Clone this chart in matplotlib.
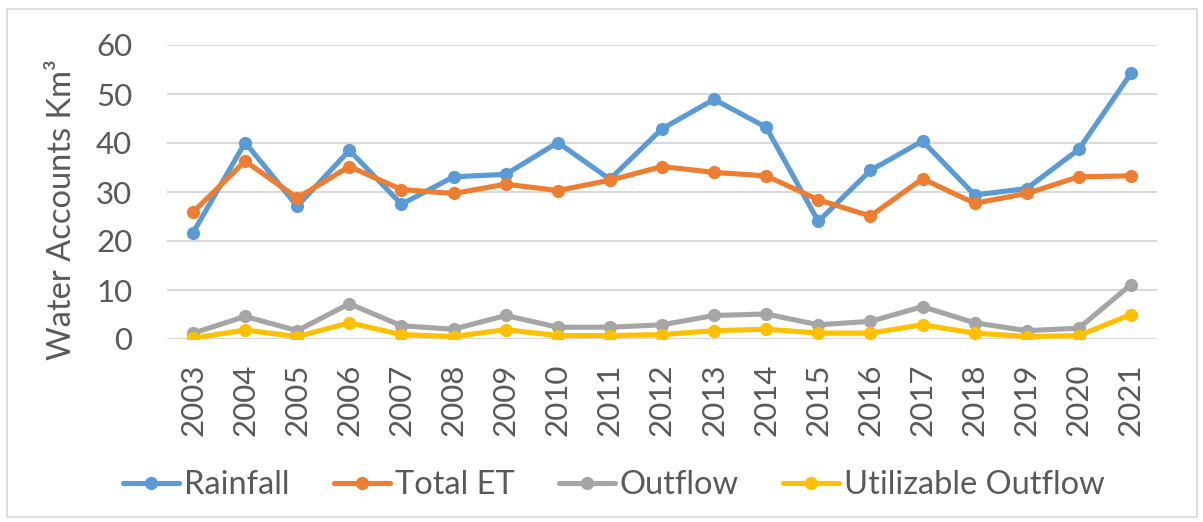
import matplotlib
matplotlib.use("Agg")
import matplotlib.pyplot as plt
from matplotlib.patches import Rectangle

years = [str(y) for y in range(2003, 2022)]
rainfall = [21.7, 40.1, 27.1, 38.5, 27.5, 33.1, 33.6, 40.1, 32.6, 42.9,
            48.9, 43.2, 24.0, 34.4, 40.4, 29.4, 30.7, 38.7, 54.2]
total_et = [25.9, 36.3, 28.8, 35.2, 30.5, 29.7, 31.6, 30.3, 32.4, 35.2,
            34.0, 33.3, 28.4, 25.1, 32.7, 27.7, 29.7, 33.1, 33.3]
outflow = [1.2, 4.6, 1.7, 7.2, 2.7, 2.0, 4.8, 2.4, 2.4, 2.9,
           4.8, 5.1, 2.9, 3.6, 6.6, 3.3, 1.7, 2.2, 11.1]
utilizable = [0.2, 1.8, 0.5, 3.3, 0.9, 0.5, 1.9, 0.7, 0.7, 0.9,
              1.7, 2.0, 1.2, 1.2, 2.9, 1.2, 0.5, 0.7, 5.0]

series = [
    ("Rainfall", rainfall, "#5B9BD5"),
    ("Total ET", total_et, "#ED7D31"),
    ("Outflow", outflow, "#A5A5A5"),
    ("Utilizable Outflow", utilizable, "#FFC000"),
]

plt.rcParams["font.family"] = ["Lato", "DejaVu Sans"]
text_color = "#595959"
grid_color = "#D9D9D9"
tick_fs = 22.5
leg_fs = 23.5

W, H = 1203, 522
fig = plt.figure(figsize=(W / 100, H / 100), dpi=100)
ax = fig.add_axes([167 / W, 1 - 339 / H, (1157 - 167) / W, (339 - 45) / H])

x = list(range(len(years)))
for name, vals, col in series:
    ax.plot(x, vals, color=col, lw=3.7, marker="o", ms=9.5,
            markeredgewidth=0, label=name, solid_joinstyle="round",
            solid_capstyle="round")

ax.set_xlim(-0.5, len(years) - 0.5)
ax.set_ylim(0, 60)
ax.set_yticks(range(0, 61, 10))
ax.set_xticks(x)
ax.set_xticklabels(years, rotation=90)
ax.tick_params(axis="both", length=0, labelsize=tick_fs, colors=text_color)
ax.tick_params(axis="y", pad=25)
ax.tick_params(axis="x", pad=17.5)
ax.yaxis.grid(True, color=grid_color, lw=1.5)
ax.set_axisbelow(True)
for s in ax.spines.values():
    s.set_visible(False)
ax.axhline(0, color=grid_color, lw=1.5, zorder=0)

ax.set_ylabel("Water Accounts Km³", fontsize=23.5, color=text_color)
ax.yaxis.set_label_coords(-0.091, 0.44)

leg = fig.legend(loc="center", bbox_to_anchor=(614 / W, 1 - 485 / H),
                 ncol=4, frameon=False, fontsize=leg_fs, handlelength=1.72,
                 handletextpad=0.15, columnspacing=1.35, labelcolor=text_color)

fig.patches.append(Rectangle((7 / W, 1 - 517 / H), (1197 - 7) / W, (517 - 9) / H,
                             transform=fig.transFigure, fill=False,
                             edgecolor=grid_color, lw=1.2))

fig.savefig("out.png", dpi=100)
